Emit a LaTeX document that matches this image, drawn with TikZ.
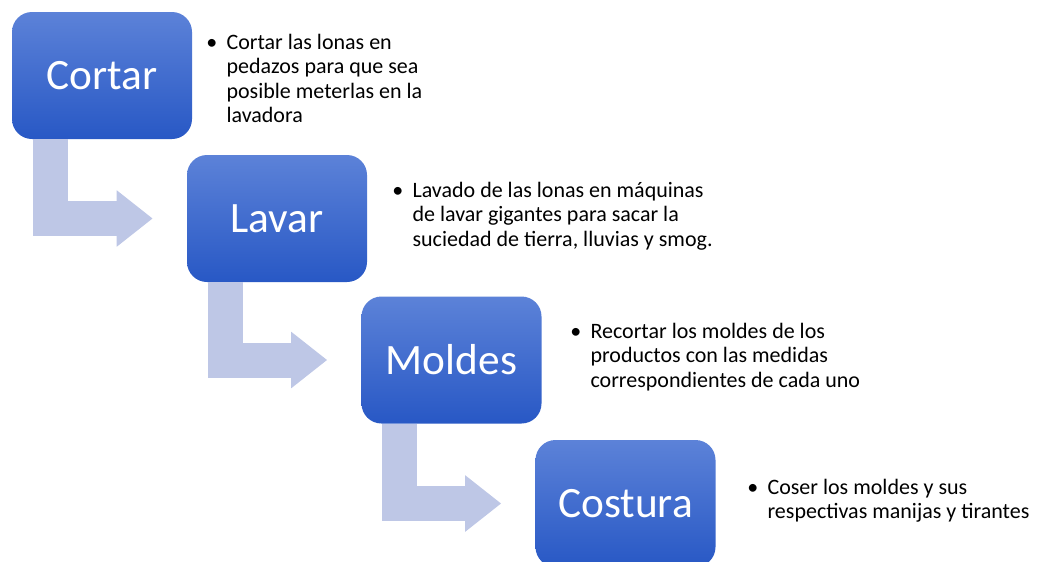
\documentclass[tikz,border=0pt]{standalone}
\usepackage{fontspec}
\setmainfont{Carlito}
\usepackage{tikz}
\usetikzlibrary{arrows.meta,calc}

\definecolor{cajaarriba}{RGB}{92,130,216}
\definecolor{cajaabajo}{RGB}{40,88,197}
\definecolor{flechacol}{RGB}{190,199,230}

\tikzset{
  pasobox/.style={rounded corners=15pt, top color=cajaarriba, bottom color=cajaabajo,
    minimum width=135pt, minimum height=95.25pt, inner sep=0pt, text=white,
    font=\fontsize{32.5}{39}\selectfont},
  flecha/.style={draw=flechacol, line width=26.25pt, line join=miter,
    -{Triangle[length=27pt,width=40.5pt]}},
  descr/.style={right, align=left, inner sep=0pt, font=\fontsize{16.5}{18.4}\selectfont}
}

\begin{document}
\begin{tikzpicture}[x=0.75pt,y=-0.75pt]
\useasboundingbox (0,0) rectangle (1037,561);

%%%%------------Cajas----------------%%
\node [pasobox] (cortar)  at (102,75.5)  {Cortar}		;
\node [pasobox] (lavar)   at (277,218.5) {Lavar}		;
\node [pasobox] (moldes)  at (451.5,360) {Moldes}		;
\node [pasobox] (costura) at (625.5,503.5) {Costura}	;

%%%%------------Flechas----------------%%
\draw [flecha] ($(cortar.south west)+(38.5,0)$) |- ($(lavar.west)+(-34,0)$)		;
\draw [flecha] ($(lavar.south west)+(38.5,0)$) |- ($(moldes.west)+(-34,0)$)		;
\draw [flecha] ($(moldes.south west)+(38.5,0)$) |- ($(costura.west)+(-34,0)$)	;

%%%-------------Texto-------------%%%
\node [descr] (tcortar) at (206,81) {\begin{tabular}{@{}l@{\hspace{7pt}}l@{}}
  \textbullet & Cortar las lonas en\\
              & pedazos para que sea\\
              & posible meterlas en la\\
              & lavadora
  \end{tabular}}												;
\node [descr] (tlavar) at (392,217) {\begin{tabular}{@{}l@{\hspace{7pt}}l@{}}
  \textbullet & Lavado de las lonas en máquinas\\
              & de lavar gigantes para sacar la\\
              & suciedad de tierra, lluvias y smog.
  \end{tabular}}												;
\node [descr] (tmoldes) at (570,358) {\begin{tabular}{@{}l@{\hspace{7pt}}l@{}}
  \textbullet & Recortar los moldes de los\\
              & productos con las medidas\\
              & correspondientes de cada uno
  \end{tabular}}												;
\node [descr] (tcostura) at (747,501.5) {\begin{tabular}{@{}l@{\hspace{7pt}}l@{}}
  \textbullet & Coser los moldes y sus\\
              & respectivas manijas y tirantes
  \end{tabular}}												;

\end{tikzpicture}
\end{document}
